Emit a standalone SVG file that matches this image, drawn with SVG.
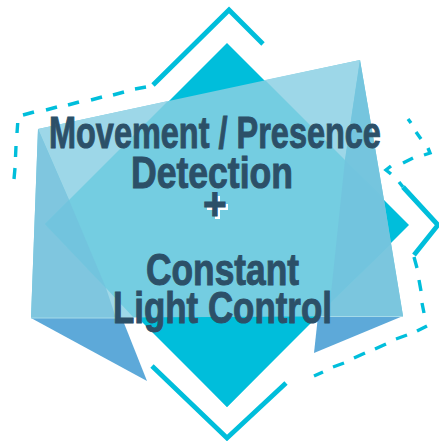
<svg xmlns="http://www.w3.org/2000/svg" width="439" height="441" viewBox="0 0 439 441">
<style>
.c{fill:#00bedb}
.l{fill:none;stroke:#00bedb;stroke-width:4.800;stroke-linejoin:miter}
.d{fill:none;stroke:#00bedb;stroke-width:3.400;stroke-linejoin:miter}
text{font-family:"Liberation Sans",Arial,sans-serif;font-weight:700;font-size:45px;fill:#2c5068;stroke:#2c5068;stroke-width:1}
</style>
<rect width="439" height="441" fill="#fff"/>
<g id="shapes">
<polygon class="c" points="227,43 409,225 227,407 45,225"/>
<polygon fill="#74cde1" points="38,129 360,60 384,200 403,316 31,318"/>
<polygon fill="#9dd7e8" points="38,129 168,101 69,200"/>
<polygon fill="#9dd7e8" points="265,80 360,60 345,160"/>
<polygon fill="#7fc6df" points="38,129 69,200 45,224 106,288 122,318 31,318"/>
<polygon fill="#72c4de" points="69,200 45,224 106,288"/>
<polygon fill="#9fd8e8" points="106,288 133,317 116,318"/>
<polygon fill="#75c5de" points="360,60 384,200 345,160"/>
<polygon fill="#72c4de" points="345,160 384,200 391,244 330,303"/>
<polygon fill="#7bc6de" points="391,244 403,316 316,317"/>
<polygon class="c" points="140,318 316,317 227,407"/>
<polygon fill="#5da9d9" points="31,318 122,318 147,381"/>
<polygon fill="#5da9d9" points="403,316 318,316 314,353"/>
<path d="M31,318H122M318,316.500H403" stroke="#a5dbe9" stroke-width="1" fill="none"/>
</g>
<g id="connectors">
<polyline class="l" points="153,85 229,10 263,44"/>
<polyline class="l" points="403,187 438,225 414,255"/>
<polyline class="l" points="152,366 227,438 286,383"/>
<path class="d" d="M146,87L135,89M124,92L113,95M102,97L91,100M79,102L68,105M57,107L46,110M34,112L23,115M17.700,123L17,133M16,146L15.500,157M15,168L14,179"/>
<path class="d" d="M408,119L411,123M416,132L421,139M428,148L430,153L424,155M413,158L403,163M391,166L386,170L391,174M399,182L403,187"/>
<path class="d" d="M414,257L417,268M419,280L421,291M422,303L424,313M427,326L417,331M407,335L396,339M386,344L375,349M365,353L354,358M344,363L333,367M323,372L314,376"/>
</g>
<g id="label">
<path d="M207,204H228V210H207ZM215,196H220V219H215Z" fill="#fff"/>
<text transform="translate(49,148) scale(.72,1)" textLength="461" lengthAdjust="spacingAndGlyphs">Movement / Presence</text>
<text transform="translate(131,188) scale(.72,1)" textLength="225" lengthAdjust="spacingAndGlyphs">Detection</text>
<text transform="translate(203,220) scale(.72,1)" textLength="33" lengthAdjust="spacingAndGlyphs" style="font-size:47px">+</text>
<text transform="translate(146,285) scale(.72,1)" textLength="212.500" lengthAdjust="spacingAndGlyphs">Constant</text>
<text transform="translate(113,323) scale(.72,1)" textLength="304" lengthAdjust="spacingAndGlyphs">Light Control</text>
</g>
</svg>
